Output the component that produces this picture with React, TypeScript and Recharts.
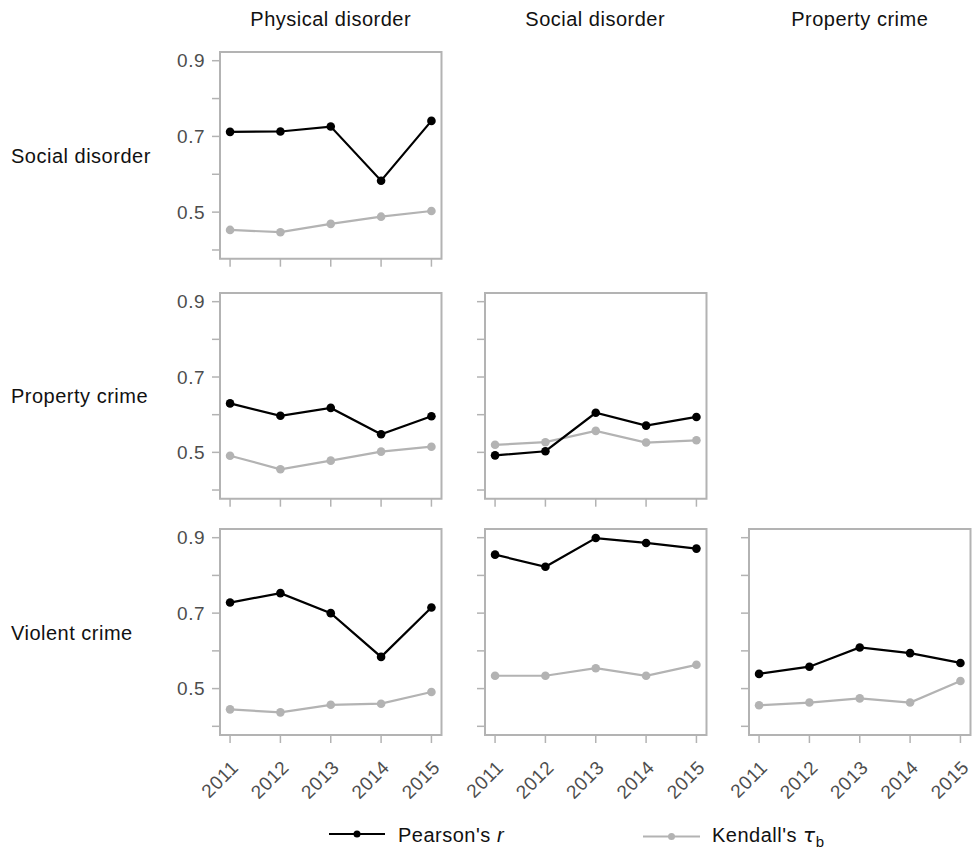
import { LineChart, Line, XAxis, YAxis, ReferenceArea } from "recharts";

// Correlations between neighbourhood measures, 2011–2015.
// Each panel: one pair of measures, Pearson's r (black) and Kendall's tau-b (grey).

const YEARS = [2011, 2012, 2013, 2014, 2015];
const Y_TICKS = [0.4, 0.5, 0.6, 0.7, 0.8, 0.9];
const COLUMN_LABELS = ["Physical disorder", "Social disorder", "Property crime"];
const ROW_LABELS = ["Social disorder", "Property crime", "Violent crime"];

// Social disorder x Physical disorder
const socialPhysicalPearson = [0.712, 0.713, 0.726, 0.583, 0.741];
const socialPhysicalKendall = [0.453, 0.447, 0.469, 0.488, 0.503];

// Property crime x Physical disorder
const propertyPhysicalPearson = [0.63, 0.597, 0.618, 0.548, 0.596];
const propertyPhysicalKendall = [0.491, 0.455, 0.478, 0.502, 0.515];

// Property crime x Social disorder
const propertySocialPearson = [0.492, 0.503, 0.605, 0.571, 0.594];
const propertySocialKendall = [0.52, 0.527, 0.557, 0.526, 0.532];

// Violent crime x Physical disorder
const violentPhysicalPearson = [0.728, 0.753, 0.7, 0.584, 0.715];
const violentPhysicalKendall = [0.445, 0.437, 0.457, 0.46, 0.491];

// Violent crime x Social disorder
const violentSocialPearson = [0.855, 0.823, 0.899, 0.886, 0.871];
const violentSocialKendall = [0.534, 0.534, 0.554, 0.534, 0.563];

// Violent crime x Property crime
const violentPropertyPearson = [0.539, 0.558, 0.609, 0.594, 0.568];
const violentPropertyKendall = [0.456, 0.463, 0.474, 0.463, 0.52];

// ── layout ──────────────────────────────────────────────────────────────────
const FONT = "'Liberation Sans', Arial, Helvetica, sans-serif";
const FRAME = "#b3b3b3";
const BLACK = "#000000";
const GREY = "#b3b3b3";
const TICK_TEXT = "#4d4d4d";
const LABEL_TEXT = "#111111";

const COL_LEFT = [220, 484.5, 749];
const ROW_TOP = [52, 292.5, 529];
const ROW_H = [206.7, 205.7, 206];
const PANEL_W = 221.5;
const Y_AXIS_W = 60;
const X_AXIS_H = 80;
const PAD_T = 6;
const PAD_R = 2;
const LAST_ROW = 2;

const X_DOMAIN: [number, number] = [2010.8, 2015.2];
const Y_DOMAIN: [number, number] = [0.377, 0.923];

const PANELS = [
  { row: 0, col: 0, pearson: socialPhysicalPearson, kendall: socialPhysicalKendall },
  { row: 1, col: 0, pearson: propertyPhysicalPearson, kendall: propertyPhysicalKendall },
  { row: 1, col: 1, pearson: propertySocialPearson, kendall: propertySocialKendall },
  { row: 2, col: 0, pearson: violentPhysicalPearson, kendall: violentPhysicalKendall },
  { row: 2, col: 1, pearson: violentSocialPearson, kendall: violentSocialKendall },
  { row: 2, col: 2, pearson: violentPropertyPearson, kendall: violentPropertyKendall },
];

// Labels on 0.5 / 0.7 / 0.9 only, tick marks on every 0.1
const formatY = (v: number) => (Math.round(v * 10) % 2 === 1 ? v.toFixed(1) : "");
const blank = () => "";

function YearTick({ x, y, payload, show }: any) {
  if (!show) return <g />;
  return (
    <text
      transform={`translate(${x + 5},${y + 19}) rotate(-45)`}
      textAnchor="end"
      dominantBaseline="central"
      fill={TICK_TEXT}
      fontSize={19}
      letterSpacing={0.5}
      fontFamily={FONT}
    >
      {payload.value}
    </text>
  );
}

function Panel({
  row,
  col,
  pearson,
  kendall,
}: {
  row: number;
  col: number;
  pearson: number[];
  kendall: number[];
}) {
  const data = YEARS.map((year, i) => ({ year, pearson: pearson[i], kendall: kendall[i] }));
  const h = ROW_H[row];
  return (
    <div
      style={{
        position: "absolute",
        left: COL_LEFT[col] - Y_AXIS_W,
        top: ROW_TOP[row] - PAD_T,
      }}
    >
      <LineChart
        width={Y_AXIS_W + PANEL_W + PAD_R}
        height={PAD_T + h + X_AXIS_H}
        data={data}
        margin={{ top: PAD_T, right: PAD_R, left: 0, bottom: 0 }}
      >
        <XAxis
          dataKey="year"
          type="number"
          domain={X_DOMAIN}
          ticks={YEARS}
          allowDataOverflow
          interval={0}
          height={X_AXIS_H}
          axisLine={false}
          tickSize={8}
          tickLine={{ stroke: FRAME, strokeWidth: 1.5 }}
          tick={<YearTick show={row === LAST_ROW} />}
        />
        <YAxis
          type="number"
          domain={Y_DOMAIN}
          ticks={Y_TICKS}
          allowDataOverflow
          width={Y_AXIS_W}
          axisLine={false}
          tickSize={8}
          tickMargin={7}
          tickLine={{ stroke: FRAME, strokeWidth: 1.5 }}
          tickFormatter={col === 0 ? formatY : blank}
          tick={{ fill: TICK_TEXT, fontSize: 19, fontFamily: FONT, letterSpacing: 0.5 }}
        />
        <ReferenceArea
          x1={X_DOMAIN[0]}
          x2={X_DOMAIN[1]}
          y1={Y_DOMAIN[0]}
          y2={Y_DOMAIN[1]}
          fill="#ffffff"
          fillOpacity={0}
          stroke={FRAME}
          strokeWidth={2}
          strokeOpacity={1}
        />
        <Line
          dataKey="kendall"
          stroke={GREY}
          strokeWidth={2.2}
          dot={{ r: 4.3, fill: GREY, stroke: GREY, strokeWidth: 0 }}
          isAnimationActive={false}
        />
        <Line
          dataKey="pearson"
          stroke={BLACK}
          strokeWidth={2.2}
          dot={{ r: 4.3, fill: BLACK, stroke: BLACK, strokeWidth: 0 }}
          isAnimationActive={false}
        />
      </LineChart>
    </div>
  );
}

export default function App() {
  return (
    <div
      style={{
        position: "absolute",
        left: 0,
        top: 0,
        width: 972,
        height: 849,
        background: "#ffffff",
        fontFamily: FONT,
        overflow: "hidden",
      }}
    >
      {PANELS.map((p) => (
        <Panel key={`${p.row}-${p.col}`} {...p} />
      ))}

      <svg
        width={972}
        height={849}
        style={{ position: "absolute", left: 0, top: 0, pointerEvents: "none" }}
      >
        {/* column headers */}
        {COLUMN_LABELS.map((label, i) => (
          <text
            key={label}
            x={COL_LEFT[i] + PANEL_W / 2}
            y={26}
            textAnchor="middle"
            fontSize={20}
            letterSpacing={0.5}
            fontFamily={FONT}
            fill={LABEL_TEXT}
          >
            {label}
          </text>
        ))}

        {/* row labels */}
        {ROW_LABELS.map((label, i) => (
          <text
            key={label}
            x={11}
            y={ROW_TOP[i] + ROW_H[i] / 2 + 7.5}
            fontSize={20}
            letterSpacing={0.5}
            fontFamily={FONT}
            fill={LABEL_TEXT}
          >
            {label}
          </text>
        ))}

        {/* legend */}
        <line x1={329} x2={385} y1={834} y2={834} stroke={BLACK} strokeWidth={2} />
        <circle cx={357} cy={834} r={3.5} fill={BLACK} />
        <text x={398} y={842} fontSize={20} letterSpacing={0.5} fontFamily={FONT} fill={LABEL_TEXT}>
          Pearson's <tspan fontStyle="italic">r</tspan>
        </text>

        <line x1={643} x2={700} y1={836.5} y2={836.5} stroke={GREY} strokeWidth={2} />
        <circle cx={671.5} cy={836.5} r={3.5} fill={GREY} />
        <text x={712} y={842} fontSize={20} letterSpacing={0.5} fontFamily={FONT} fill={LABEL_TEXT}>
          Kendall's{" "}
          <tspan fontStyle="italic" fontFamily="'DejaVu Sans', sans-serif">
            τ
          </tspan>
          <tspan fontSize={15} dy={5}>
            b
          </tspan>
        </text>
      </svg>
    </div>
  );
}
